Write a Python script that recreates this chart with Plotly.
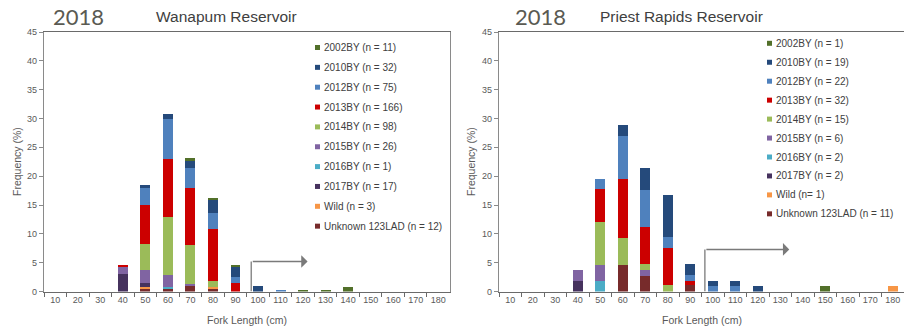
import plotly.graph_objects as go

W, H = 904, 335

# Fork length classes (cm)
length_classes = ["10", "20", "30", "40", "50", "60", "70", "80", "90",
                  "100", "110", "120", "130", "140", "150", "160", "170", "180"]

# Stacking order, bottom to top
series_names = ["Unknown 123LAD", "Wild", "2017BY", "2016BY", "2015BY",
                "2014BY", "2013BY", "2012BY", "2010BY", "2002BY"]
series_colors = ["#772b2b", "#f79646", "#46325e", "#4bacc6", "#8064a2",
                 "#9bbb59", "#cc0000", "#4f81bd", "#254a7b", "#52702a"]

# Wanapum Reservoir, frequency (%) by length class
wan_unknown = [0, 0, 0, 0, 0.35, 0.5, 1.0, 0.35, 0, 0, 0, 0, 0, 0, 0, 0, 0, 0]
wan_wild    = [0, 0, 0, 0, 0.4, 0, 0, 0.45, 0, 0, 0, 0, 0, 0, 0, 0, 0, 0]
wan_2017    = [0, 0, 0, 3.1, 0.75, 0, 0, 0, 0, 0, 0, 0, 0, 0, 0, 0, 0, 0]
wan_2016    = [0, 0, 0, 0, 0, 0.2, 0, 0, 0, 0, 0, 0, 0, 0, 0, 0, 0, 0]
wan_2015    = [0, 0, 0, 1.15, 2.3, 2.1, 0.3, 0, 0, 0, 0, 0, 0, 0, 0, 0, 0, 0]
wan_2014    = [0, 0, 0, 0, 4.5, 10.1, 6.8, 1.0, 0, 0, 0, 0, 0, 0, 0, 0, 0, 0]
wan_2013    = [0, 0, 0, 0.3, 6.75, 10.1, 9.8, 9.05, 1.5, 0, 0, 0, 0, 0, 0, 0, 0, 0]
wan_2012    = [0, 0, 0, 0, 2.85, 6.9, 3.55, 2.85, 1.0, 0, 0.2, 0, 0, 0, 0, 0, 0, 0]
wan_2010    = [0, 0, 0, 0, 0.5, 0.9, 1.2, 2.2, 1.8, 0.9, 0, 0, 0, 0, 0, 0, 0, 0]
wan_2002    = [0, 0, 0, 0, 0, 0, 0.45, 0.3, 0.2, 0, 0, 0.2, 0.2, 0.7, 0, 0, 0, 0]

# Priest Rapids Reservoir, frequency (%) by length class
pr_unknown = [0, 0, 0, 0, 0, 4.6, 2.7, 0, 1.05, 0, 0, 0, 0, 0, 0, 0, 0, 0]
pr_wild    = [0, 0, 0, 0, 0, 0, 0, 0, 0, 0, 0, 0, 0, 0, 0, 0, 0, 0.9]
pr_2017    = [0, 0, 0, 1.8, 0, 0, 0, 0, 0, 0, 0, 0, 0, 0, 0, 0, 0, 0]
pr_2016    = [0, 0, 0, 0, 1.9, 0, 0, 0, 0, 0, 0, 0, 0, 0, 0, 0, 0, 0]
pr_2015    = [0, 0, 0, 1.85, 2.7, 0, 1.05, 0, 0, 0, 0, 0, 0, 0, 0, 0, 0, 0]
pr_2014    = [0, 0, 0, 0, 7.45, 4.7, 0.95, 1.05, 0, 0, 0, 0, 0, 0, 0, 0, 0, 0]
pr_2013    = [0, 0, 0, 0, 5.65, 10.15, 6.5, 6.45, 0.8, 0, 0, 0, 0, 0, 0, 0, 0, 0]
pr_2012    = [0, 0, 0, 0, 1.75, 7.45, 6.45, 1.9, 0.95, 1.0, 1.0, 0, 0, 0, 0, 0, 0, 0]
pr_2010    = [0, 0, 0, 0, 0, 1.95, 3.75, 7.3, 1.9, 0.9, 0.9, 1.0, 0, 0, 0, 0, 0, 0]
pr_2002    = [0, 0, 0, 0, 0, 0, 0, 0, 0, 0, 0, 0, 0, 0, 0.9, 0, 0, 0]

# Legend labels, top to bottom
wan_labels = ["2002BY (n = 11)", "2010BY (n = 32)", "2012BY (n = 75)",
              "2013BY (n = 166)", "2014BY (n = 98)", "2015BY (n = 26)",
              "2016BY (n = 1)", "2017BY (n = 17)", "Wild (n = 3)",
              "Unknown 123LAD (n = 12)"]
pr_labels = ["2002BY (n = 1)", "2010BY (n = 19)", "2012BY (n = 22)",
             "2013BY (n = 32)", "2014BY (n = 15)", "2015BY (n = 6)",
             "2016BY (n = 2)", "2017BY (n = 2)", "Wild (n= 1)",
             "Unknown 123LAD (n = 11)"]

wan_series = [wan_unknown, wan_wild, wan_2017, wan_2016, wan_2015,
              wan_2014, wan_2013, wan_2012, wan_2010, wan_2002]
pr_series = [pr_unknown, pr_wild, pr_2017, pr_2016, pr_2015,
             pr_2014, pr_2013, pr_2012, pr_2010, pr_2002]


def px(x):
    return x / W


def py(y):
    return 1 - y / H


fig = go.Figure()
for name, color, vals in zip(series_names, series_colors, wan_series):
    fig.add_trace(go.Bar(x=length_classes, y=vals, name=name, marker_color=color,
                         marker_line_width=0, xaxis="x", yaxis="y", showlegend=False))
for name, color, vals in zip(series_names, series_colors, pr_series):
    fig.add_trace(go.Bar(x=length_classes, y=vals, name=name, marker_color=color,
                         marker_line_width=0, xaxis="x2", yaxis="y2", showlegend=False))

tick_font = dict(family="Liberation Sans, Arial", size=9, color="#595959")
xcommon = dict(type="category", categoryorder="array", categoryarray=length_classes,
               range=[-0.5, 17.5], showline=True, linecolor="#6a6a6a", linewidth=1.3,
               mirror=True, ticks="outside", ticklen=4, tickcolor="#6a6a6a",
               tickson="boundaries", tickangle=0, tickfont=tick_font, showgrid=False,
               zeroline=False, automargin=False, fixedrange=True)
ycommon = dict(range=[0, 45], dtick=5, showline=True, linecolor="#8a8a8a",
               linewidth=1.3, mirror=True, ticks="outside", ticklen=4,
               tickcolor="#8a8a8a", tickfont=tick_font, showgrid=False,
               zeroline=False, automargin=False, fixedrange=True)

plot_top, plot_bottom = 32, 291.5
fig.update_layout(
    width=W, height=H,
    margin=dict(l=0, r=0, t=0, b=0),
    paper_bgcolor="white", plot_bgcolor="white",
    barmode="stack", bargap=0.56,
    showlegend=False,
    font=dict(family="Liberation Sans, Arial", color="#404040"),
    xaxis=dict(domain=[px(44), px(449.5)], anchor="y", **xcommon),
    yaxis=dict(domain=[py(plot_bottom), py(plot_top)], anchor="x", **ycommon),
    xaxis2=dict(domain=[px(499), px(904)], anchor="y2", **xcommon),
    yaxis2=dict(domain=[py(plot_bottom), py(plot_top)], anchor="x2", **ycommon),
)

annotations = []
shapes = []


def note(x, y, text, **kw):
    d = dict(x=px(x), y=py(y), xref="paper", yref="paper", text=text,
             showarrow=False, xanchor="center", yanchor="middle")
    d.update(kw)
    annotations.append(d)


# Panel headings
for x_year, x_title, title in [(78, 227, "Wanapum Reservoir"),
                               (540, 681, "Priest Rapids Reservoir")]:
    note(x_year, 16, "2018",
         font=dict(family="Lato, Liberation Sans", size=22, color="#5a5a52"))
    note(x_title, 16, title,
         font=dict(family="Liberation Sans, Arial", size=15.5, color="#404040"))

# Axis titles
for x_ytitle, x_xtitle in [(17, 246.5), (471, 701.5)]:
    note(x_ytitle, 162, "Frequency (%)", textangle=-90,
         font=dict(size=10.5, color="#595959"))
    note(x_xtitle, 320, "Fork Length (cm)", font=dict(size=10.5, color="#595959"))

# Legends (swatch + label), top to bottom
legend_colors = series_colors[::-1]
for labels, x0, y0, step in [(wan_labels, 315, 47.5, 19.85), (pr_labels, 767, 43.3, 18.95)]:
    for i, (lab, col) in enumerate(zip(labels, legend_colors)):
        yc = y0 + i * step
        shapes.append(dict(type="rect", xref="paper", yref="paper",
                           x0=px(x0), x1=px(x0 + 5), y0=py(yc + 2.5), y1=py(yc - 2.5),
                           fillcolor=col, line=dict(width=0)))
        note(x0 + 6.5, yc, lab, xanchor="left", font=dict(size=10, color="#404040"))

# Bracket arrows marking the larger length classes
for xr, yr, xs, xe, ytop in [("x", "y", 8.7, 11.2, 5.2), ("x2", "y2", 8.65, 12.4, 7.3)]:
    shapes.append(dict(type="line", xref=xr, yref=yr, x0=xs, x1=xs, y0=0, y1=ytop,
                       line=dict(color="#8c8c8c", width=1.5)))
    annotations.append(dict(x=xe, y=ytop, ax=xs, ay=ytop, xref=xr, yref=yr,
                            axref=xr, ayref=yr, text="", showarrow=True,
                            arrowhead=1, arrowsize=1.4, arrowwidth=1.5,
                            arrowcolor="#7a7a7a"))

fig.update_layout(annotations=annotations, shapes=shapes)
fig.write_html("out.html")
